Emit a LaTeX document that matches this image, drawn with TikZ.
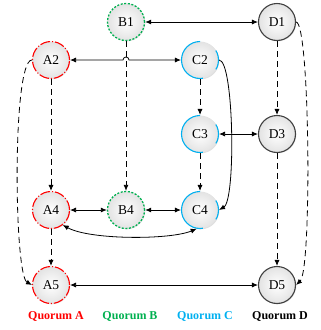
\documentclass[tikz,border=0pt]{standalone}
\usepackage{fontspec}
\setmainfont{Liberation Serif}
\usetikzlibrary{arrows.meta,shadows}
\definecolor{qred}{HTML}{FF0000}
\definecolor{qgreen}{HTML}{00B050}
\definecolor{qblue}{HTML}{00B0F0}
\definecolor{qgray}{HTML}{404040}
\begin{document}
\begin{tikzpicture}[x=1pt,y=-1pt,
	server/.style={circle,minimum size=37pt,inner sep=0pt,font=\fontsize{13.5}{13.5}\selectfont,
		shading=radial,inner color=white,outer color=gray!22,
		drop shadow={shadow xshift=0.8pt,shadow yshift=-0.8pt,opacity=0.25}},
	qa/.style={server,draw=qred,line width=1.1pt,dash pattern=on 10pt off 2pt on 1pt off 2pt},
	qb/.style={server,draw=qgreen,line width=1.3pt,dash pattern=on 2pt off 1.6pt},
	qc/.style={server,draw=qblue,line width=1.1pt,dash pattern=on 20pt off 19pt on 61pt off 16.2pt,dash phase=10pt},
	qd/.style={server,draw=qgray,line width=1.1pt},
	link/.style={line width=0.8pt,-{Latex[length=6pt,width=5pt]}},
	both/.style={line width=0.8pt,{Latex[length=6pt,width=5pt]}-{Latex[length=6pt,width=5pt]}},
	copy/.style={link,dash pattern=on 6pt off 4pt},
	qlabel/.style={font=\fontsize{12}{12}\selectfont\bfseries}]
	\useasboundingbox (0,0) rectangle (321,330);
	
	\node[qb] (B1) at (126,22) {B1};
	\node[qd] (D1) at (277,22) {D1};
	\node[qa] (A2) at (51,60) {A2};
	\node[qc] (C2) at (200,60) {C2};
	\node[qc] (C3) at (200,134) {C3};
	\node[qd] (D3) at (277,134) {D3};
	\node[qa] (A4) at (51,210) {A4};
	\node[qb] (B4) at (126,210) {B4};
	\node[qc] (C4) at (200,210) {C4};
	\node[qa] (A5) at (51,285) {A5};
	\node[qd] (D5) at (277,285) {D5};
	
	\node[qlabel,qred] (la) at (56,316) {Quorum A};
	\node[qlabel,qgreen] (lb) at (130,316) {Quorum B};
	\node[qlabel,qblue] (lc) at (205,316) {Quorum C};
	\node[qlabel,black] (ld) at (280,316) {Quorum D};
	
	\coordinate (hop) at (126,60);
	
	% solid links
	\draw[both] (B1) -- (D1);
	\draw[both] (A2) -- ([xshift=-3pt]hop) arc[start angle=180,end angle=0,radius=3pt] -- (C2);
	\draw[both] (C3) -- (D3);
	\draw[both] (A4) -- (B4);
	\draw[both] (B4) -- (C4);
	\draw[both] (A5) -- (D5);
	\draw[both] (A4.-52) .. controls (90,240) and (170,240) .. (C4.-100);
	\draw[link] (C2.east) .. controls (234,60) and (236,200) .. (C4.east);
	
	% dashed links
	\draw[copy] (B1) -- (B4);
	\draw[copy] (A2) -- (A4);
	\draw[copy] (A4) -- (A5);
	\draw[copy] (C2) -- (C3);
	\draw[copy] (C3) -- (C4);
	\draw[copy] (D1) -- (D3);
	\draw[copy] (D3) -- (D5);
	\draw[copy] (A2.west) .. controls (12,60) and (14,275) .. (A5.west);
	\draw[copy] (D1.east) .. controls (310,22) and (312,270) .. (D5.east);
\end{tikzpicture}
\end{document}
